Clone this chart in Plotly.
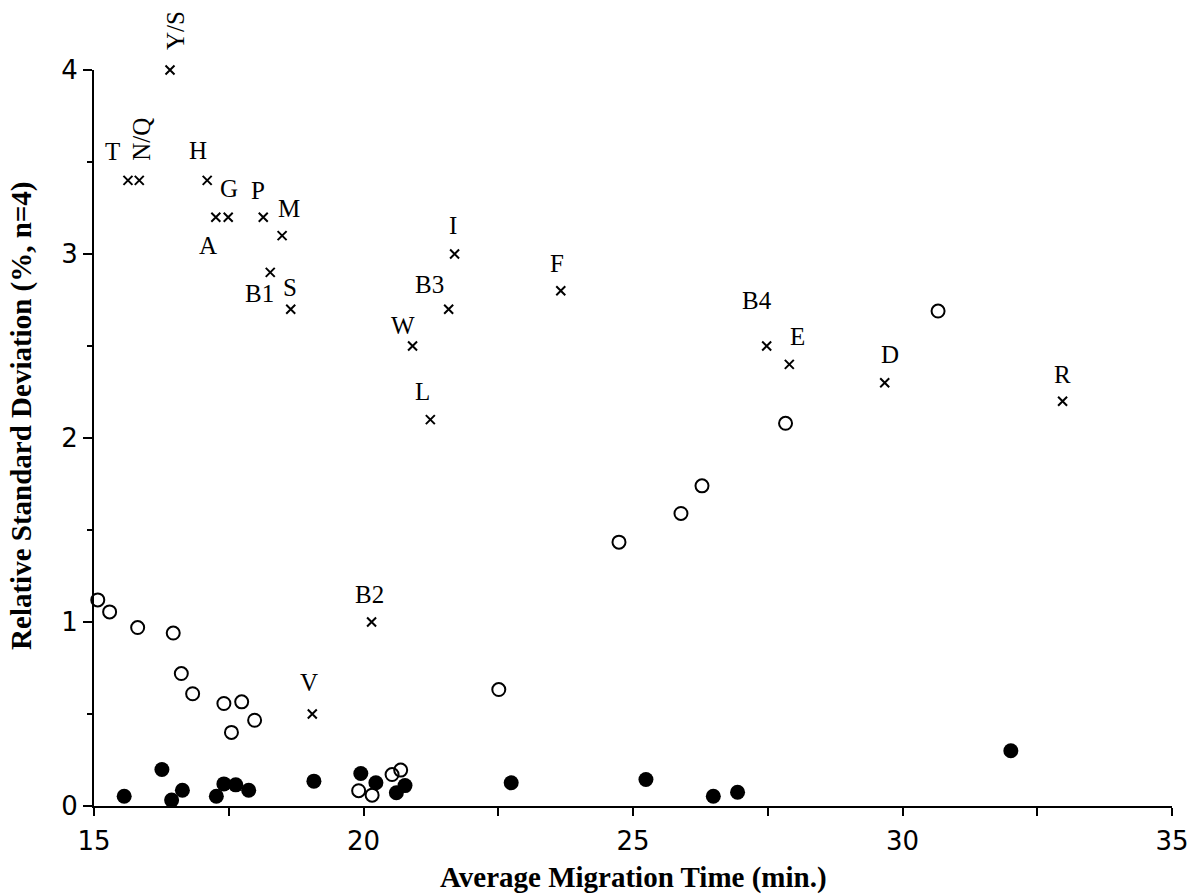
import plotly.graph_objects as go

# ---- data ----
cross_labels = ["T", "N/Q", "Y/S", "H", "A", "G", "P", "M", "B1", "S", "V", "B2",
                "W", "L", "B3", "I", "F", "B4", "E", "D", "R"]
cross_x = [15.63, 15.84, 16.41, 17.10, 17.26, 17.49, 18.14, 18.49, 18.27, 18.65, 19.05, 20.15,
           20.91, 21.24, 21.58, 21.69, 23.66, 27.48, 27.90, 29.67, 32.97]
cross_y = [3.4, 3.4, 4.0, 3.4, 3.2, 3.2, 3.2, 3.1, 2.9, 2.7, 0.5, 1.0,
           2.5, 2.1, 2.7, 3.0, 2.8, 2.5, 2.4, 2.3, 2.2]

open_x = [15.07, 15.29, 15.81, 16.47, 16.62, 16.83, 17.41, 17.74, 17.55, 17.98,
          19.91, 20.16, 20.53, 20.69, 22.51, 24.74, 25.89, 26.28, 27.83, 30.66]
open_y = [1.12, 1.055, 0.97, 0.94, 0.72, 0.61, 0.557, 0.566, 0.40, 0.466,
          0.083, 0.059, 0.171, 0.195, 0.633, 1.434, 1.59, 1.74, 2.08, 2.69]

filled_x = [15.56, 16.26, 16.44, 16.64, 17.27, 17.41, 17.63, 17.87, 19.08, 19.95,
            20.23, 20.61, 20.77, 22.74, 25.24, 26.49, 26.94, 32.01]
filled_y = [0.053, 0.198, 0.032, 0.086, 0.053, 0.12, 0.115, 0.086, 0.135, 0.177,
            0.126, 0.072, 0.111, 0.126, 0.144, 0.053, 0.075, 0.30]

x_ticks = [15, 20, 25, 30, 35]
y_ticks = [0, 1, 2, 3, 4]

x_title = "Average Migration Time (min.)"
y_title = "Relative Standard Deviation (%, n=4)"

# ---- label styling (pixel offsets from each marker, screen coords: +down) ----
label_offsets = {
    "T": (-15, -29), "N/Q": (2, -41), "Y/S": (5, -39), "H": (-9, -30), "A": (-8, 28),
    "G": (1, -29), "P": (-5, -27), "M": (7, -27), "B1": (-11, 21), "S": (-1, -22),
    "V": (-3, -32), "B2": (-2, -28), "W": (-10, -21), "L": (-8, -28), "B3": (-19, -25),
    "I": (-2, -29), "F": (-4, -27), "B4": (-10, -46), "E": (8, -28), "D": (5, -28),
    "R": (0, -27),
}
rotated = {"N/Q", "Y/S"}

fig = go.Figure()

fig.add_trace(go.Scatter(
    x=open_x, y=open_y, mode="markers",
    marker=dict(symbol="circle-open", size=13, color="black", line=dict(width=2, color="black")),
    cliponaxis=False, showlegend=False,
))
fig.add_trace(go.Scatter(
    x=filled_x, y=filled_y, mode="markers",
    marker=dict(symbol="circle", size=15, color="black"),
    cliponaxis=False, showlegend=False,
))
fig.add_trace(go.Scatter(
    x=cross_x, y=cross_y, mode="markers",
    marker=dict(symbol="x-thin-open", size=9, color="black", line=dict(width=2, color="black")),
    cliponaxis=False, showlegend=False,
))

for lab, xv, yv in zip(cross_labels, cross_x, cross_y):
    dx, dy = label_offsets[lab]
    fig.add_annotation(
        x=xv, y=yv, text=lab, showarrow=False,
        xanchor="center", yanchor="middle",
        xshift=dx, yshift=-dy,
        textangle=-90 if lab in rotated else 0,
        font=dict(family="Liberation Serif, Times New Roman, serif", size=25, color="black"),
    )

axis_font = dict(family="DejaVu Sans, Verdana, sans-serif", size=26, color="black")
title_font = dict(family="Liberation Serif, Times New Roman, serif", size=29, color="black")

# axis titles as annotations (positioned like the original)
fig.add_annotation(
    x=0.5, y=0, xref="paper", yref="paper", text=f"<b>{x_title}</b>", showarrow=False,
    xanchor="center", yanchor="middle", yshift=-71, font=title_font,
)
fig.add_annotation(
    x=0, y=0.53, xref="paper", yref="paper", text=f"<b>{y_title}</b>", showarrow=False,
    xanchor="center", yanchor="middle", xshift=-72, textangle=-90, font=title_font,
)

fig.update_xaxes(
    range=[15, 35], tickvals=x_ticks, ticktext=[str(v) for v in x_ticks],
    ticks="outside", ticklen=8, tickwidth=2, tickcolor="black",
    minor=dict(dtick=2.5, ticks="outside", ticklen=8, tickwidth=2, tickcolor="black", showgrid=False),
    showline=True, linewidth=2, linecolor="black", showgrid=False, zeroline=False,
    tickfont=axis_font, automargin=False, ticklabelstandoff=3,
)
fig.update_yaxes(
    range=[0, 4], tickvals=y_ticks, ticktext=[str(v) for v in y_ticks],
    ticks="outside", ticklen=9, tickwidth=2, tickcolor="black",
    minor=dict(dtick=0.5, ticks="outside", ticklen=5, tickwidth=2, tickcolor="black", showgrid=False),
    showline=True, linewidth=2, linecolor="black", showgrid=False, zeroline=False,
    tickfont=axis_font, automargin=False,
)

fig.update_layout(
    width=1190, height=896,
    margin=dict(l=94, r=18, t=70, b=90),
    plot_bgcolor="white", paper_bgcolor="white",
)

fig.write_html("out.html")
